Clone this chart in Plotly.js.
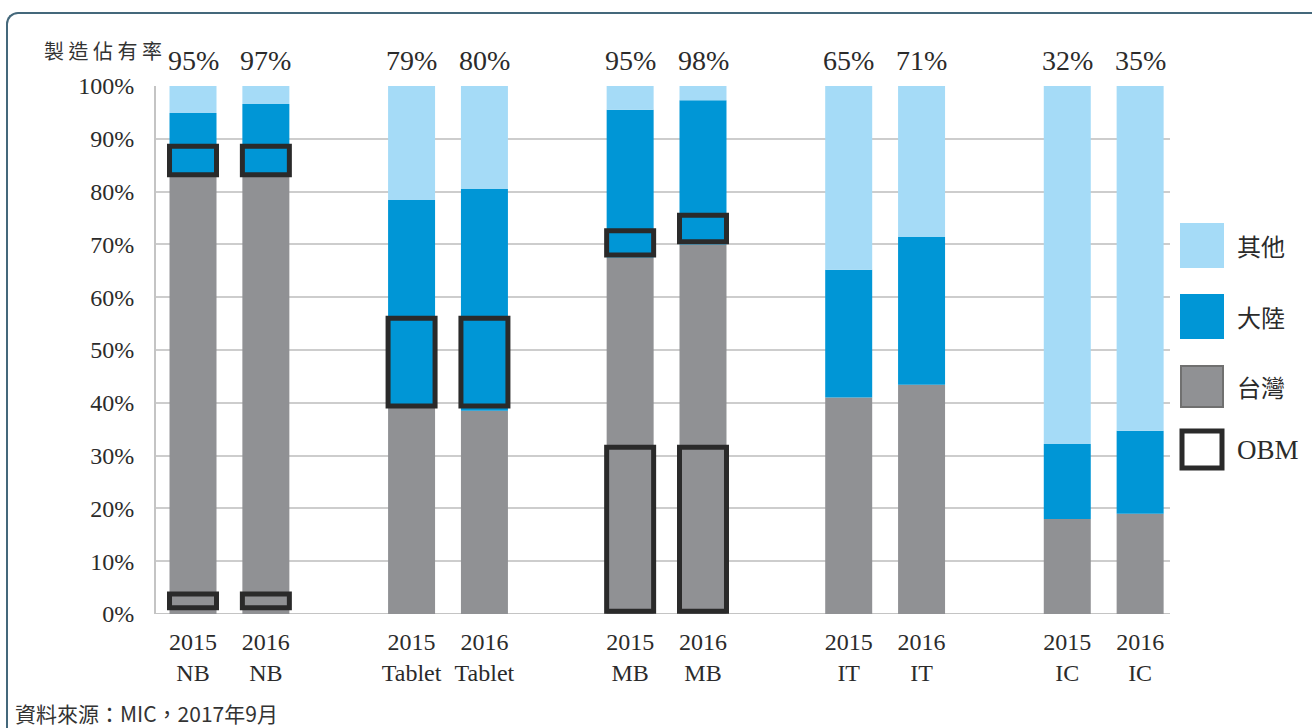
<!DOCTYPE html>
<html>
<head>
<meta charset="utf-8">
<script src="https://cdn.plot.ly/plotly-3.0.1.min.js"></script>
<style>
  html, body { margin: 0; padding: 0; background: #fff; }
  #wrap { position: relative; width: 1312px; height: 728px; overflow: hidden; }
  #frame { position: absolute; left: 6px; top: 12px; width: 1400px; height: 800px;
           border-top: 2px solid #44687b; border-left: 2px solid #44687b; border-top-left-radius: 12px; box-sizing: border-box; }
  #chart { position: absolute; left: 0; top: 0; width: 1312px; height: 728px; }
</style>
</head>
<body>
<div id="wrap">
  <div id="frame"></div>
  <div id="chart"></div>
</div>
<script>
// ---- data ----
const positions = [0, 1, 3, 4, 6, 7, 9, 10, 12, 13];
const tickLabels = ['2015<br>NB', '2016<br>NB', '2015<br>Tablet', '2016<br>Tablet', '2015<br>MB', '2016<br>MB', '2015<br>IT', '2016<br>IT', '2015<br>IC', '2016<br>IC'];
const taiwan   = [82.8, 82.8, 39.0, 38.5, 67.5, 70.0, 41.0, 43.4, 18.0, 19.0];
const mainland = [12.1, 13.8, 39.4, 42.0, 28.0, 27.3, 24.2, 28.0, 14.2, 15.7];
const shareLabels = ['95%', '97%', '79%', '80%', '95%', '98%', '65%', '71%', '32%', '35%'];
// OBM boxes (low/high, % of production), two possible boxes per bar
const obmLowA  = [83.2, 83.2, 39.4, 39.4, 68.0, 70.5, null, null, null, null];
const obmHighA = [88.6, 88.6, 56.0, 56.0, 72.6, 75.5, null, null, null, null];
const obmLowB  = [1.2, 1.2, null, null, 0.5, 0.5, null, null, null, null];
const obmHighB = [3.8, 3.8, null, null, 31.6, 31.6, null, null, null, null];
const yTicks = [0, 10, 20, 30, 40, 50, 60, 70, 80, 90, 100];
const legendLabels = ['其他', '大陸', '台灣', 'OBM'];

// ---- derived ----
const other = taiwan.map((t, i) => 100 - t - mainland[i]);
const baseMainland = taiwan.slice();
const baseOther = taiwan.map((t, i) => t + mainland[i]);
const span = (lo, hi) => lo.map((l, i) => (l == null ? null : hi[i] - l));

const C_OTHER = '#a5dbf7', C_MAIN = '#0096d6', C_TW = '#909194', C_OBM = '#2a2a2a';
const BW = 0.645;
const serif = 'Liberation Serif, serif';
const cjk = 'Noto Sans CJK TC, sans-serif';

const traces = [
  {type: 'bar', x: positions, y: taiwan, base: 0, width: BW, name: '台灣', marker: {color: C_TW}},
  {type: 'bar', x: positions, y: mainland, base: baseMainland, width: BW, name: '大陸', marker: {color: C_MAIN}},
  {type: 'bar', x: positions, y: other, base: baseOther, width: BW, name: '其他', marker: {color: C_OTHER}},
  {type: 'bar', x: positions, y: span(obmLowA, obmHighA), base: obmLowA, width: BW, name: 'OBM',
   marker: {color: 'rgba(0,0,0,0)', line: {color: C_OBM, width: 5}}},
  {type: 'bar', x: positions, y: span(obmLowB, obmHighB), base: obmLowB, width: BW, name: 'OBM2',
   marker: {color: 'rgba(0,0,0,0)', line: {color: C_OBM, width: 5}}}
];

// plot area geometry (px)
const L = 156, R = 1170, T = 86, B = 614;
const px = v => (v - L) / (R - L);
const py = v => (B - v) / (B - T);

const annotations = positions.map((p, i) => ({
  x: p, y: 100, xref: 'x', yref: 'y', yanchor: 'bottom', yshift: 8,
  text: shareLabels[i], showarrow: false, font: {family: serif, size: 28, color: '#2b2b2b'}
}));
annotations.push({x: px(42), y: py(51), xref: 'paper', yref: 'paper', xanchor: 'left', yanchor: 'middle',
  text: '製 造 佔 有 率', showarrow: false, font: {family: cjk, size: 20, color: '#333'}});
annotations.push({x: px(13), y: py(713), xref: 'paper', yref: 'paper', xanchor: 'left', yanchor: 'middle',
  text: '資料來源：MIC，2017年9月', showarrow: false, font: {family: cjk, size: 21, color: '#333'}});

// legend drawn as shapes + text
const legTop = [223, 294, 365, 429], legBot = [268, 339, 408, 470];
const legFill = [C_OTHER, C_MAIN, C_TW, '#ffffff'];
const legLine = [{width: 0}, {width: 0}, {color: '#707070', width: 2}, {color: C_OBM, width: 5}];
const shapes = [];
legendLabels.forEach((lab, i) => {
  const inset = i === 3 ? 2 : (i === 2 ? 1 : 0);
  shapes.push({type: 'rect', xref: 'paper', yref: 'paper',
    x0: px(1180 + inset), x1: px(1224 - inset), y0: py(legBot[i] - inset), y1: py(legTop[i] + inset),
    fillcolor: legFill[i], line: legLine[i], layer: 'above'});
  annotations.push({x: px(1235), y: py((legTop[i] + legBot[i]) / 2), xref: 'paper', yref: 'paper',
    xanchor: 'left', yanchor: 'middle', text: lab, showarrow: false,
    font: {family: i === 3 ? serif : cjk, size: i === 3 ? 27 : 24, color: '#2b2b2b'}});
});

const layout = {
  width: 1312, height: 728,
  margin: {l: L, r: 1312 - R, t: T, b: 728 - B},
  paper_bgcolor: 'rgba(0,0,0,0)', plot_bgcolor: '#fff',
  barmode: 'overlay', showlegend: false, hovermode: false,
  xaxis: {range: [-0.508, 13.41], tickvals: positions, ticktext: tickLabels, showgrid: false, zeroline: false,
    showline: false, ticks: '', ticklabelstandoff: 11, tickfont: {family: serif, size: 24, color: '#2b2b2b'}},
  yaxis: {range: [0, 100], tickvals: yTicks, ticktext: yTicks.map(v => v + '%'), showgrid: true,
    gridcolor: '#cdcdcd', gridwidth: 2, zeroline: false, showline: true, linecolor: '#c4c4c4', linewidth: 2,
    ticks: '', ticklabelstandoff: 15, tickfont: {family: serif, size: 24, color: '#2b2b2b'}},
  annotations: annotations,
  shapes: shapes
};
shapes.push({type: 'line', xref: 'paper', yref: 'y', x0: 0, x1: 1, y0: 0, y1: 0, line: {color: '#c4c4c4', width: 2}, layer: 'below'});

Plotly.newPlot('chart', traces, layout, {displayModeBar: false, staticPlot: true});
</script>
</body>
</html>
